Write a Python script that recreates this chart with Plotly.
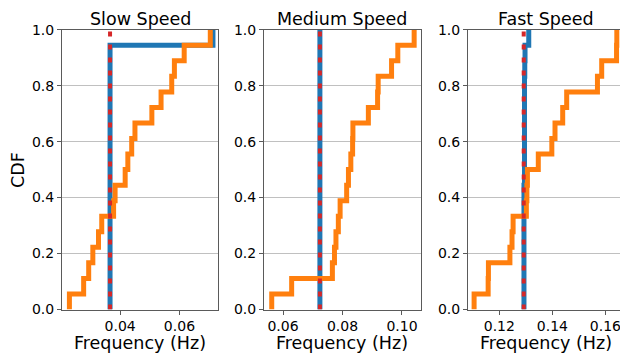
import plotly.graph_objects as go

# ---- data ----
panel_titles = ["Slow Speed", "Medium Speed", "Fast Speed"]
x_label = "Frequency (Hz)"
y_label = "CDF"

slow_orange = [0.0229, 0.0277, 0.0294, 0.0308, 0.0327, 0.0338, 0.0378, 0.0383, 0.0417,
               0.0426, 0.0439, 0.0450, 0.0507, 0.0538, 0.0574, 0.0583, 0.0616, 0.0704]
slow_blue = [0.0366, 0.0366, 0.0366, 0.0366, 0.0366, 0.0366, 0.0366, 0.0366, 0.0366,
             0.0366, 0.0366, 0.0366, 0.0366, 0.0366, 0.0366, 0.0366, 0.0366, 0.0713]
slow_ref = 0.0366

medium_orange = [0.0562, 0.0629, 0.0766, 0.0773, 0.0778, 0.0786, 0.0792, 0.0814, 0.0820,
                 0.0828, 0.0834, 0.0835, 0.0887, 0.0918, 0.0920, 0.0965, 0.0986, 0.1041]
medium_blue = [0.0724, 0.0724, 0.0724, 0.0724, 0.0724, 0.0724, 0.0724, 0.0724, 0.0724,
               0.0724, 0.0724, 0.0724, 0.0724, 0.0724, 0.0724, 0.0724, 0.0724, 0.0724]
medium_ref = 0.0724

fast_orange = [0.1105, 0.1158, 0.1159, 0.1240, 0.1248, 0.1252, 0.1302, 0.1304, 0.1306,
               0.1347, 0.1398, 0.1410, 0.1439, 0.1454, 0.1570, 0.1586, 0.1642, 0.1643]
fast_blue = [0.1293, 0.1293, 0.1293, 0.1293, 0.1293, 0.1293, 0.1293, 0.1293, 0.1295,
             0.1295, 0.1295, 0.1295, 0.1295, 0.1295, 0.1295, 0.1296, 0.1297, 0.1311]
fast_ref = 0.1292

x_ranges = [[0.0204, 0.0730], [0.0536, 0.1064], [0.1082, 0.1655]]
x_ticks = [[0.04, 0.06], [0.06, 0.08, 0.10], [0.12, 0.14, 0.16]]
x_ticktext = [["0.04", "0.06"], ["0.06", "0.08", "0.10"], ["0.12", "0.14", "0.16"]]
y_ticks = [0.0, 0.2, 0.4, 0.6, 0.8, 1.0]
y_ticktext = ["0.0", "0.2", "0.4", "0.6", "0.8", "1.0"]

# ---- layout constants ----
W, H = 620, 356
FONT = "DejaVu Sans"
BLUE, ORANGE, RED = "#1f77b4", "#ff7f0e", "#d62728"
SPINE = "#5a5a5a"
GRID = "#c0c0c0"
dom_px = [(62, 218), (264, 421), (468, 620)]
y_px = (29.7, 309.5)


def px_x(p):
    return p / W


def px_y(p):
    return 1 - p / H


def ecdf(vals):
    v = sorted(vals)
    n = len(v)
    xs = [v[0]] + v
    ys = [0.0] + [(k + 1) / n for k in range(n)]
    return xs, ys


fig = go.Figure()
series = [(slow_blue, slow_orange, slow_ref),
          (medium_blue, medium_orange, medium_ref),
          (fast_blue, fast_orange, fast_ref)]

for i, (blue, orange, ref) in enumerate(series):
    ax = "" if i == 0 else str(i + 1)
    bx, by = ecdf(blue)
    ox, oy = ecdf(orange)
    fig.add_trace(go.Scatter(x=bx, y=by, mode="lines", line=dict(color=BLUE, width=5, shape="hv"),
                             xaxis="x" + ax, yaxis="y" + ax, showlegend=False, hoverinfo="skip"))
    fig.add_trace(go.Scatter(x=ox, y=oy, mode="lines", line=dict(color=ORANGE, width=5, shape="hv"),
                             xaxis="x" + ax, yaxis="y" + ax, showlegend=False, hoverinfo="skip"))
    fig.add_trace(go.Scatter(x=[ref, ref], y=[0, 1], mode="lines",
                             line=dict(color=RED, width=4, dash="5px,8px"),
                             xaxis="x" + ax, yaxis="y" + ax, showlegend=False, hoverinfo="skip"))

layout = dict(width=W, height=H, autosize=False,
              margin=dict(l=0, r=0, t=0, b=0, pad=0, autoexpand=False),
              paper_bgcolor="white", plot_bgcolor="white",
              font=dict(family=FONT, color="black", size=14), showlegend=False)

ydom = [px_y(y_px[1]), px_y(y_px[0])]
for i in range(3):
    ax = "" if i == 0 else str(i + 1)
    layout["xaxis" + ax] = dict(
        domain=[px_x(dom_px[i][0]), px_x(dom_px[i][1])], range=x_ranges[i], anchor="y" + ax,
        tickvals=x_ticks[i], ticktext=x_ticktext[i], ticks="outside", ticklen=4, tickwidth=1,
        tickcolor=SPINE, showline=True, linecolor=SPINE, linewidth=1, mirror=True,
        showgrid=False, zeroline=False, ticklabeloverflow="allow", automargin=False,
        tickfont=dict(size=14, family=FONT, color="black"))
    layout["yaxis" + ax] = dict(
        domain=ydom, range=[0, 1], anchor="x" + ax,
        tickvals=y_ticks, ticktext=y_ticktext, ticks="outside", ticklen=4, tickwidth=1,
        tickcolor=SPINE, showline=True, linecolor=SPINE, linewidth=1, mirror=(i < 2),
        showgrid=True, gridcolor=GRID, gridwidth=1, zeroline=False, automargin=False,
        tickfont=dict(size=14, family=FONT, color="black"))

fig.update_layout(**layout)

title_cx = [140, 342.5, 545.5]
for i in range(3):
    fig.add_annotation(x=px_x(title_cx[i]), y=px_y(19), xref="paper", yref="paper",
                       text=panel_titles[i], showarrow=False, xanchor="center", yanchor="middle",
                       font=dict(size=17.5, family=FONT, color="black"))
    fig.add_annotation(x=px_x(title_cx[i]), y=px_y(343), xref="paper", yref="paper",
                       text=x_label, showarrow=False, xanchor="center", yanchor="middle",
                       font=dict(size=17.5, family=FONT, color="black"))

fig.add_annotation(x=px_x(18), y=px_y(170), xref="paper", yref="paper", text=y_label,
                   showarrow=False, textangle=-90, xanchor="center", yanchor="middle",
                   font=dict(size=17.5, family=FONT, color="black"))

# remove the default page margin so the 620x356 figure fills the window exactly
fig.write_html("out.html", config={"displayModeBar": False},
               post_script="document.body.style.margin='0';document.body.style.overflow='hidden';")
